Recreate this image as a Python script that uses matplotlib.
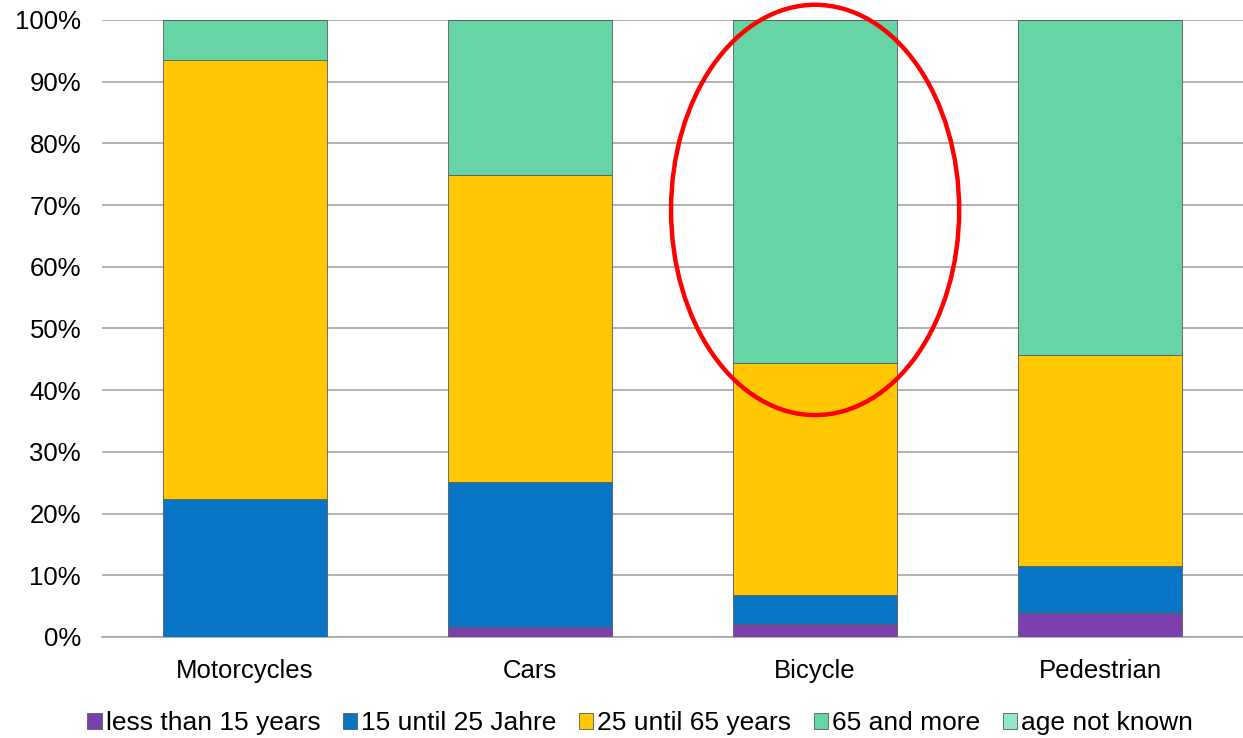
import matplotlib.pyplot as plt
from matplotlib.patches import Ellipse
import numpy as np

plt.rcParams['font.family'] = ['Liberation Sans', 'DejaVu Sans']

# shares in percent
categories = ['Motorcycles', 'Cars', 'Bicycle', 'Pedestrian']
less_than_15 = [0.0, 1.6, 2.1, 3.9]
from_15_to_25 = [22.4, 23.5, 4.7, 7.6]
from_25_to_65 = [71.1, 49.8, 37.6, 34.2]
over_65 = [6.5, 25.1, 55.6, 54.3]
not_known = [0.0, 0.0, 0.0, 0.0]

series = [
    ('less than 15 years', less_than_15, '#7B3FAE'),
    ('15 until 25 Jahre', from_15_to_25, '#0874C6'),
    ('25 until 65 years', from_25_to_65, '#FFC803'),
    ('65 and more', over_65, '#67D4A5'),
    ('age not known', not_known, '#8FE8CC'),
]

fig = plt.figure(figsize=(12.43, 7.38), dpi=100)
ax = fig.add_axes([0.082, 0.137, 0.918, 0.836])

x = np.arange(len(categories))
bottom = np.zeros(len(categories))
for label, vals, color in series:
    vals = np.array(vals)
    ax.bar(x, vals, bottom=bottom, width=0.575, color=color, label=label,
           edgecolor='#5a5a5a', linewidth=0.6, zorder=3)
    bottom += vals

ax.set_ylim(0, 100)
ax.set_xlim(-0.5, 3.5)
ax.set_yticks(range(0, 101, 10))
ax.set_yticklabels([f'{v}%' for v in range(0, 101, 10)])
ax.set_xticks(x)
ax.set_xticklabels(categories)
ax.tick_params(axis='both', labelsize=18.5, length=0, colors='black')
ax.tick_params(axis='x', pad=16)
ax.tick_params(axis='y', pad=15)
ax.grid(True, axis='y', color='#A6A6A6', linewidth=1.2, zorder=0)
for s in ['left', 'right', 'top']:
    ax.spines[s].set_visible(False)
ax.spines['bottom'].set_color('#A6A6A6')
ax.spines['bottom'].set_linewidth(1.2)

# red highlight around Bicycle
ell = Ellipse((2.0, 69.2), 1.01, 66.5, fill=False, edgecolor='#FF0000',
              linewidth=3.2, clip_on=False, zorder=5)
ax.add_patch(ell)

handles, labels = ax.get_legend_handles_labels()
fig.legend(handles, labels, loc='center', bbox_to_anchor=(0.515, 0.020), ncol=5,
           frameon=False, fontsize=19, handlelength=0.55, handleheight=0.55,
           handletextpad=0.15, columnspacing=0.85)

plt.savefig('out.png', dpi=100)
